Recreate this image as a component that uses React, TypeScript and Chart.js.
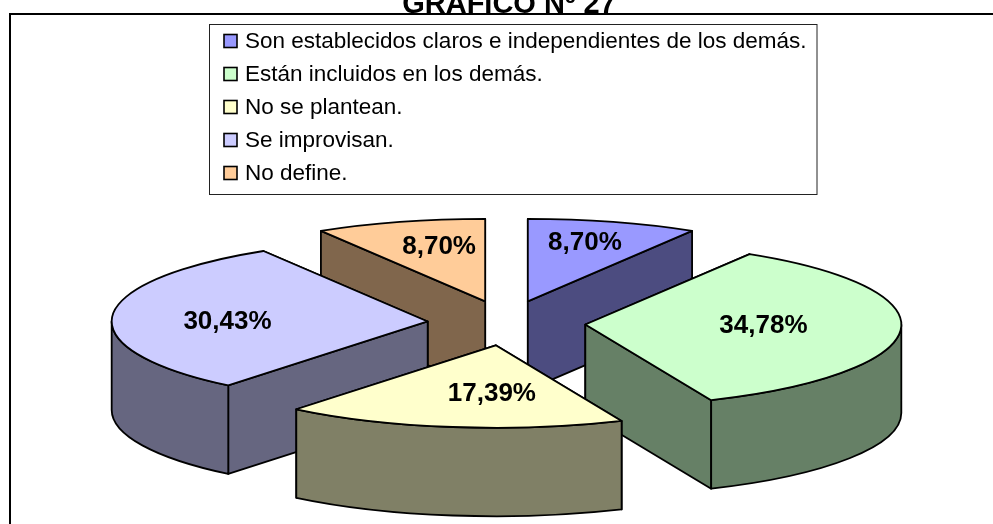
import React, { useEffect, useRef } from "react";
import { Chart, registerables } from "chart.js";

Chart.register(...registerables);

const titleText = "GRÁFICO Nº 27";
const categories = [
  "Son establecidos claros e independientes de los demás.",
  "Están incluidos en los demás.",
  "No se plantean.",
  "Se improvisan.",
  "No define.",
];
const values = [8.7, 34.78, 17.39, 30.43, 8.7];
const topColors = ["#9999FF", "#CCFFCC", "#FFFFCC", "#CCCCFF", "#FFCC99"];
const sideColors = ["#4C4C80", "#668066", "#808066", "#666680", "#80664C"];
const labelReach = [
  [0.67, 0.74],
  [0.565, 0.2],
  [0.09, 0.6],
  [0.635, 0.0],
  [0.54, 0.69],
];

const FONT = '"Liberation Sans", Arial, sans-serif';
const SQUASH = 0.261;
const DEPTH = 88.5;
const EXPLODE_X = 79;
const EXPLODE_Y = 22.5;
const RADIUS = 316;

const pie3d = {
  id: "pie3d",
  beforeDraw(chart: any) {
    const { ctx, width } = chart;
    ctx.save();
    ctx.fillStyle = "#fff";
    ctx.fillRect(0, 0, width, chart.height);
    ctx.fillStyle = "#000";
    ctx.font = `bold 29px ${FONT}`;
    ctx.textAlign = "center";
    ctx.textBaseline = "alphabetic";
    ctx.fillText(titleText, 509, 13);
    ctx.strokeStyle = "#000";
    ctx.lineWidth = 2;
    ctx.strokeRect(10, 14, 1200, 800);

    ctx.fillStyle = "#fff";
    ctx.fillRect(209, 24.5, 608, 170);
    ctx.strokeStyle = "#222";
    ctx.lineWidth = 1;
    ctx.strokeRect(209.5, 24.5, 607.5, 170);
    categories.forEach((label, i) => {
      const base = 48 + i * 33;
      ctx.fillStyle = topColors[i];
      ctx.strokeStyle = "#000";
      ctx.lineWidth = 1.6;
      ctx.fillRect(224, base - 13.5, 13, 13);
      ctx.strokeRect(224, base - 13.5, 13, 13);
      ctx.fillStyle = "#000";
      ctx.font = `22.5px ${FONT}`;
      ctx.textAlign = "left";
      ctx.fillText(label, 245, base);
    });
    ctx.restore();
  },
  beforeDatasetsDraw(chart: any) {
    const { ctx } = chart;
    const arcs = chart.getDatasetMeta(0).data;
    const parts = arcs.map((arc: any, i: number) => {
      const mid = (arc.startAngle + arc.endAngle) / 2;
      return {
        arc,
        i,
        mid,
        ox: arc.x + Math.cos(mid) * EXPLODE_X,
        oy: arc.y + Math.sin(mid) * EXPLODE_Y,
      };
    });
    const order = [...parts].sort((a: any, b: any) => a.oy - b.oy);

    for (const p of order) {
      const { arc, i, ox, oy } = p;
      const R = arc.outerRadius;
      const ry = R * SQUASH;
      const a0 = arc.startAngle;
      const a1 = arc.endAngle;
      ctx.save();
      ctx.lineWidth = 1.8;
      ctx.lineJoin = "round";
      ctx.strokeStyle = "#000";
      ctx.fillStyle = sideColors[i];

      const cuts = [a0, a1]
        .map((a) => ({ x: ox + Math.cos(a) * R, y: oy + Math.sin(a) * ry }))
        .sort((u, v) => u.y - v.y);
      for (const c of cuts) {
        ctx.beginPath();
        ctx.moveTo(ox, oy);
        ctx.lineTo(c.x, c.y);
        ctx.lineTo(c.x, c.y + DEPTH);
        ctx.lineTo(ox, oy + DEPTH);
        ctx.closePath();
        ctx.fill();
        ctx.stroke();
      }

      for (const shift of [0, Math.PI * 2, -Math.PI * 2]) {
        const w0 = Math.max(a0, shift);
        const w1 = Math.min(a1, shift + Math.PI);
        if (w1 <= w0) continue;
        ctx.beginPath();
        ctx.ellipse(ox, oy, R, ry, 0, w0, w1, false);
        ctx.ellipse(ox, oy + DEPTH, R, ry, 0, w1, w0, true);
        ctx.closePath();
        ctx.fill();
        ctx.stroke();
      }

      ctx.save();
      ctx.translate(ox, oy);
      ctx.scale(1, SQUASH);
      ctx.translate(-arc.x, -arc.y);
      arc.draw(ctx);
      ctx.beginPath();
      ctx.moveTo(arc.x, arc.y);
      ctx.arc(arc.x, arc.y, R, a0, a1, false);
      ctx.closePath();
      ctx.restore();
      ctx.stroke();
      ctx.restore();
    }

    ctx.save();
    ctx.fillStyle = "#000";
    ctx.font = `bold 26px ${FONT}`;
    ctx.textAlign = "center";
    ctx.textBaseline = "middle";
    for (const p of parts) {
      const [fx, fy] = labelReach[p.i];
      const x = p.ox + Math.cos(p.mid) * fx * p.arc.outerRadius;
      const y = p.oy + Math.sin(p.mid) * fy * p.arc.outerRadius * SQUASH;
      ctx.fillText(`${values[p.i].toFixed(2).replace(".", ",")}%`, x, y);
    }
    ctx.restore();
    return false;
  },
};

export default function App() {
  const ref = useRef<HTMLCanvasElement | null>(null);
  useEffect(() => {
    const chart = new Chart(ref.current as HTMLCanvasElement, {
      type: "pie",
      data: {
        labels: categories,
        datasets: [
          {
            data: values,
            backgroundColor: topColors,
            borderWidth: 0,
          },
        ],
      },
      options: {
        responsive: false,
        animation: false,
        radius: RADIUS,
        layout: { padding: { left: 20, top: 122, right: 0, bottom: 0 } },
        plugins: {
          legend: { display: false },
          title: { display: false },
          tooltip: { enabled: false },
        },
      } as any,
      plugins: [pie3d as any],
    });
    return () => chart.destroy();
  }, []);
  return (
    <div style={{ position: "fixed", left: 0, top: 0, width: 993, height: 524, overflow: "hidden" }}>
      <canvas ref={ref} width={993} height={524} style={{ display: "block" }} />
    </div>
  );
}
